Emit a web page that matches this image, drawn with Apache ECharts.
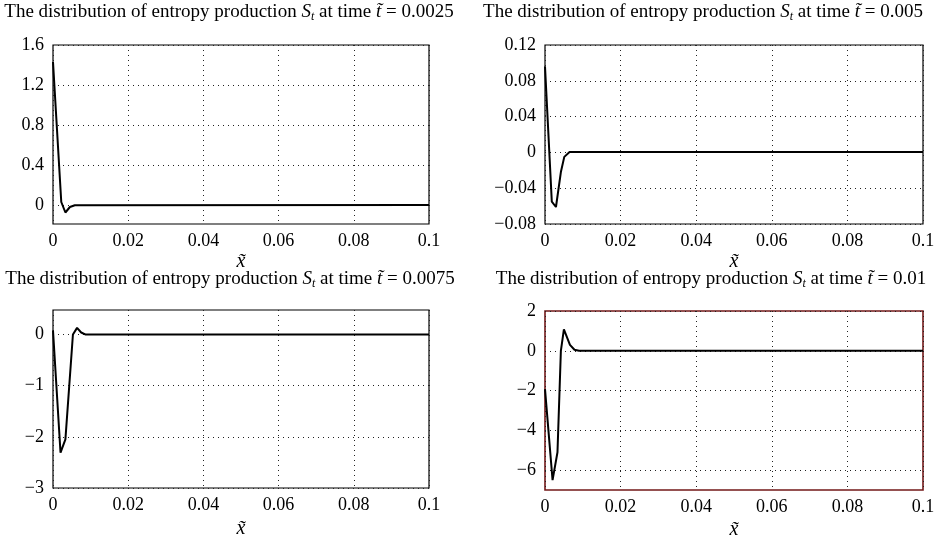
<!DOCTYPE html>
<html><head><meta charset="utf-8">
<script src="https://cdn.jsdelivr.net/npm/echarts@6/dist/echarts.min.js"></script>
<style>html,body{margin:0;padding:0;background:#fff;overflow:hidden}#c{width:946px;height:536px}</style>
</head><body><div id="c"></div>
<script>
// ---- data ----
const times = ['0.0025', '0.005', '0.0075', '0.01'];
const xTicks = [0, 0.02, 0.04, 0.06, 0.08, 0.1];

const yTicks1 = [0, 0.4, 0.8, 1.2, 1.6];
const yTicks2 = [-0.08, -0.04, 0, 0.04, 0.08, 0.12];
const yTicks3 = [-3, -2, -1, 0];
const yTicks4 = [-6, -4, -2, 0, 2];

const x1 = [0, 0.0022, 0.0033, 0.0045, 0.0058, 0.1];
const y1 = [1.43, 0.03, -0.075, -0.02, -0.003, 0];

const x2 = [0, 0.0018, 0.0029, 0.0042, 0.0051, 0.0065, 0.1];
const y2 = [0.096, -0.055, -0.061, -0.022, -0.005, 0.0005, 0.0005];

const x3 = [0, 0.002, 0.0033, 0.0053, 0.0064, 0.0075, 0.0087, 0.1];
const y3 = [0.08, -2.31, -2.05, 0.0, 0.13, 0.04, 0, 0];

const x4 = [0, 0.002, 0.0033, 0.0042, 0.005, 0.0066, 0.0078, 0.009, 0.1];
const y4 = [-1.93, -6.5, -5.1, 0.0, 1.08, 0.3, 0.05, 0, 0];

// ---- layout ----
const FONT = 'Liberation Serif';
const panels = [
  {x: x1, y: y1, ticks: yTicks1, min: -0.19, max: 1.6, left: 53, top: 45, width: 376, height: 179, border: '#000', bw: 1.2, tx: 229, ty: 1, gap: 28},
  {x: x2, y: y2, ticks: yTicks2, min: -0.08, max: 0.12, left: 545, top: 45, width: 378, height: 179, border: '#000', bw: 1.2, tx: 703, ty: 1, gap: 28},
  {x: x3, y: y3, ticks: yTicks3, min: -3, max: 0.48, left: 53, top: 310, width: 376, height: 178, border: '#000', bw: 1.2, tx: 230, ty: 268, gap: 31},
  {x: x4, y: y4, ticks: yTicks4, min: -7, max: 2, left: 545, top: 311, width: 378, height: 179, border: '#731818', bw: 1.6, tx: 711, ty: 268, gap: 30}
];

const fmt = v => String(+v.toFixed(4)).replace('-', '\u2212');

const option = {
  animation: false,
  backgroundColor: '#fff',
  textStyle: {fontFamily: FONT},
  title: panels.map((p, i) => ({
    text: 'The distribution of entropy production {i|S}{s|t} at time {i|t\u0303} = ' + times[i],
    left: p.tx, top: p.ty, textAlign: 'center', padding: 0,
    textStyle: {
      fontFamily: FONT, fontSize: 19, fontWeight: 'normal', color: '#000', lineHeight: 22,
      rich: {
        i: {fontFamily: FONT, fontStyle: 'italic', fontSize: 19, color: '#000', lineHeight: 22},
        s: {fontFamily: FONT, fontStyle: 'italic', fontSize: 12, color: '#000', lineHeight: 12, verticalAlign: 'bottom'}
      }
    }
  })),
  grid: panels.map(p => ({
    left: p.left, top: p.top, width: p.width, height: p.height,
    outerBoundsMode: 'none',
    show: true, borderColor: p.border, borderWidth: p.bw, backgroundColor: 'transparent', containLabel: false
  })),
  xAxis: panels.map((p, i) => ({
    type: 'value', gridIndex: i, min: 0, max: 0.1, interval: 0.02,
    name: 'x\u0303', nameLocation: 'middle', nameGap: p.gap,
    nameTextStyle: {fontFamily: FONT, fontStyle: 'italic', fontSize: 20, color: '#000'},
    axisLine: {show: false}, axisTick: {show: false},
    axisLabel: {fontFamily: FONT, fontSize: 18, color: '#000', margin: 8, formatter: fmt},
    splitLine: {show: true, lineStyle: {color: '#222', width: 1, type: [1, 4]}}
  })),
  yAxis: panels.map((p, i) => ({
    type: 'value', gridIndex: i, min: p.min, max: p.max,
    axisLine: {show: false},
    axisTick: {show: false, customValues: p.ticks},
    axisLabel: {fontFamily: FONT, fontSize: 18, color: '#000', margin: 9, formatter: fmt, customValues: p.ticks},
    splitLine: {show: true, lineStyle: {color: '#222', width: 1, type: [1, 4]}}
  })),
  series: panels.map((p, i) => ({
    type: 'line', xAxisIndex: i, yAxisIndex: i,
    data: p.x.map((xv, k) => [xv, p.y[k]]),
    showSymbol: false, symbol: 'none',
    lineStyle: {color: '#000', width: 2}, z: 5
  }))
};

echarts.init(document.getElementById('c'), null, {renderer: 'canvas'}).setOption(option);
</script>
</body></html>
